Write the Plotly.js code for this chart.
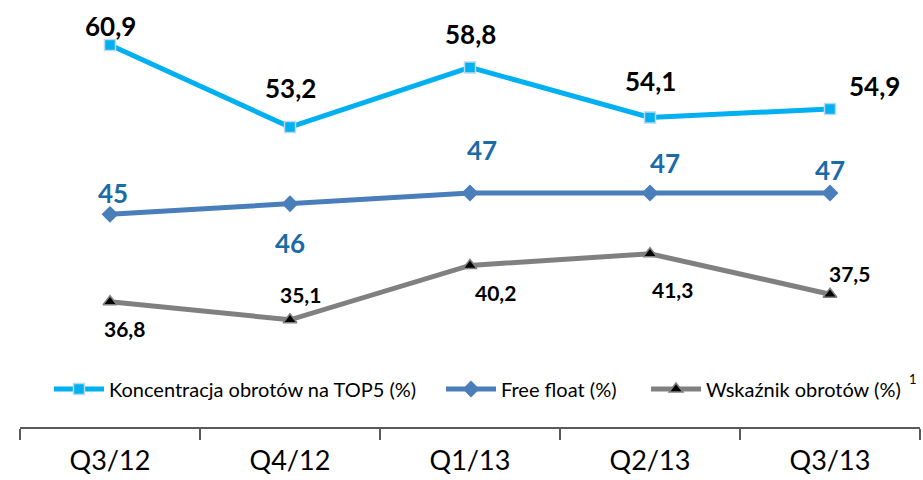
<!DOCTYPE html>
<html>
<head>
<meta charset="utf-8">
<script src="https://cdn.plot.ly/plotly-3.0.1.min.js"></script>
<style>html,body{margin:0;padding:0;background:#fff;}#chart{width:923px;height:480px;}</style>
</head>
<body>
<div id="chart"></div>
<script>
const categories = ["Q3/12", "Q4/12", "Q1/13", "Q2/13", "Q3/13"];
const top5 = [60.9, 53.2, 58.8, 54.1, 54.9];
const freeFloat = [45, 46, 47, 47, 47];
const turnover = [36.8, 35.1, 40.2, 41.3, 37.5];
const seriesNames = ["Koncentracja obrotów na TOP5 (%)", "Free float (%)", "Wskaźnik obrotów (%)"];

// label offsets (px) relative to each point: [xshift, yshift]
const top5Off = [[0, 19], [0, 39], [0, 33], [0, 36], [44, 23]];
const ffOff = [[3, 21], [0, -39], [12, 43], [15, 30], [0, 23]];
const toOff = [[14, -27], [10, 25], [25, -27], [22, -36], [19, 21]];

const fmt = v => String(v).replace('.', ',');
const FONT = "Lato, 'Open Sans', sans-serif";

const traces = [
  {x: categories, y: top5, name: seriesNames[0], type: 'scatter', mode: 'lines+markers', legend: 'legend',
   line: {color: '#00B0F0', width: 5},
   marker: {symbol: 'square', size: 11, color: '#00B0F0', line: {color: '#BDD7EE', width: 1.5}}},
  {x: categories, y: freeFloat, name: seriesNames[1], type: 'scatter', mode: 'lines+markers', legend: 'legend2',
   line: {color: '#4A7EBB', width: 5},
   marker: {symbol: 'diamond', size: 13, color: '#4A7EBB'}},
  {x: categories, y: turnover, name: seriesNames[2], type: 'scatter', mode: 'lines+markers', legend: 'legend3',
   line: {color: '#808080', width: 5},
   marker: {symbol: 'triangle-up', size: 12, color: '#000000', line: {color: '#808080', width: 1.5}}}
];

const annotations = [];
categories.forEach((c, i) => {
  annotations.push({x: c, y: top5[i], xref: 'x', yref: 'y', text: fmt(top5[i]), showarrow: false,
    xshift: top5Off[i][0], yshift: top5Off[i][1],
    font: {family: FONT, size: 26, color: '#000000', weight: 'bold'}});
  annotations.push({x: c, y: freeFloat[i], xref: 'x', yref: 'y', text: fmt(freeFloat[i]), showarrow: false,
    xshift: ffOff[i][0], yshift: ffOff[i][1],
    font: {family: FONT, size: 26, color: '#1B6BA6', weight: 'bold'}});
  annotations.push({x: c, y: turnover[i], xref: 'x', yref: 'y', text: fmt(turnover[i]), showarrow: false,
    xshift: toOff[i][0], yshift: toOff[i][1],
    font: {family: FONT, size: 21, color: '#000000', weight: 'bold'}});
});
// footnote marker after the legend
const plotL = 20, plotR = 920, plotB = 427;
annotations.push({x: (913 - plotL) / (plotR - plotL), y: (plotB - 379) / plotB, xref: 'paper', yref: 'paper',
  xanchor: 'center', yanchor: 'middle',
  text: '1', showarrow: false, font: {family: FONT, size: 13, color: '#000000'}});

const legBase = {orientation: 'h', xanchor: 'left', y: (plotB - 389) / plotB, yanchor: 'middle',
  font: {family: FONT, size: 20, color: '#000000'}, bgcolor: 'rgba(0,0,0,0)', itemwidth: 50};

const layout = {
  width: 923, height: 480,
  margin: {l: 20, r: 3, t: 0, b: 53},
  paper_bgcolor: '#ffffff', plot_bgcolor: '#ffffff',
  font: {family: FONT, color: '#000000'},
  showlegend: true,
  legend: Object.assign({}, legBase, {x: 0.0322}),
  legend2: Object.assign({}, legBase, {x: 0.4678}),
  legend3: Object.assign({}, legBase, {x: 0.6956}),
  xaxis: {type: 'category', range: [-0.5, 4.5], showline: true, linecolor: '#595959', linewidth: 1.5,
    ticks: 'outside', tickson: 'boundaries', ticklen: 11, tickcolor: '#595959', tickwidth: 1.5,
    tickfont: {family: FONT, size: 27, color: '#000000'}, ticklabelstandoff: 9,
    showgrid: false, zeroline: false, fixedrange: true},
  yaxis: {visible: false, range: [25.03, 65.13], showgrid: false, zeroline: false, fixedrange: true},
  annotations: annotations
};

Plotly.newPlot('chart', traces, layout, {displayModeBar: false, staticPlot: true});
</script>
</body>
</html>
